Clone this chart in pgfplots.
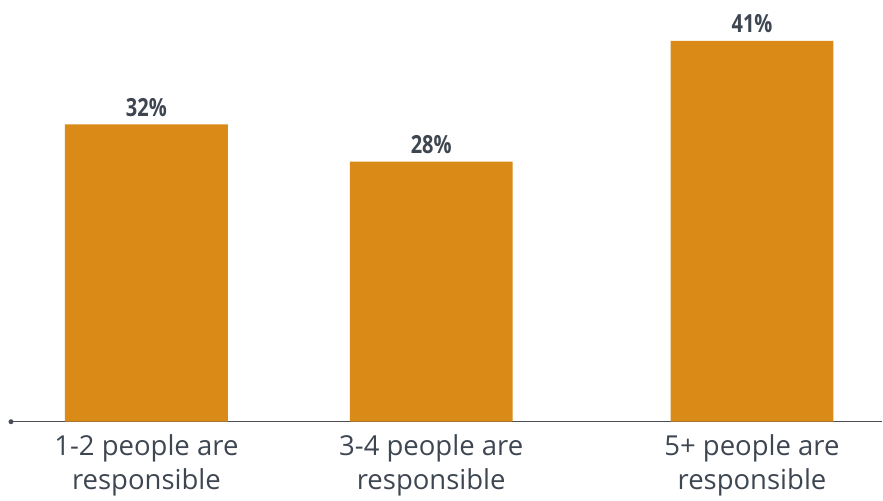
\documentclass[border=0pt]{standalone}
\usepackage{pgfplots}
\pgfplotsset{compat=1.18}
\usepackage{fontspec}
\setmainfont{Open Sans}
\newfontfamily\condbold{Open Sans}[FakeStretch=0.8]
\definecolor{barc}{HTML}{DA8A17}
\definecolor{txt}{HTML}{3E4651}
\definecolor{axc}{HTML}{4A4F57}
\begin{document}
\begin{tikzpicture}
\begin{axis}[
  scale only axis,
  width=872bp, height=422bp,
  xmin=11, xmax=883,
  ymin=0, ymax=45.4,
  axis x line=bottom,
  axis y line=none,
  x axis line style={axc, line width=1.2bp, -},
  major tick length=0pt,
  clip=false,
  xtick={146.5,431.5,752.5},
  xticklabels={{1-2 people are\\responsible},{3-4 people are\\responsible},{5+ people are\\responsible}},
  xticklabel style={align=center, text=txt, font=\fontsize{27.5bp}{34bp}\selectfont, inner sep=0pt, anchor=north, yshift=-13bp},
  ytick=\empty,
  bar width=163,
  /pgf/number format/assume math mode=true,
  nodes near coords={\pgfmathprintnumber{\pgfplotspointmeta}\%},
  every node near coord/.append style={font=\condbold\bfseries\fontsize{25bp}{30bp}\selectfont, text=txt, inner sep=0pt, anchor=south, yshift=8bp},
]
\addplot[ybar, fill=barc, draw=none] coordinates {(146.5,32) (431.5,28) (752.5,41)};
\fill[axc] (axis cs:11,0) circle (2.5bp);
\end{axis}
\path (-11bp,-79bp) rectangle (872bp,422bp);
\end{tikzpicture}
\end{document}
